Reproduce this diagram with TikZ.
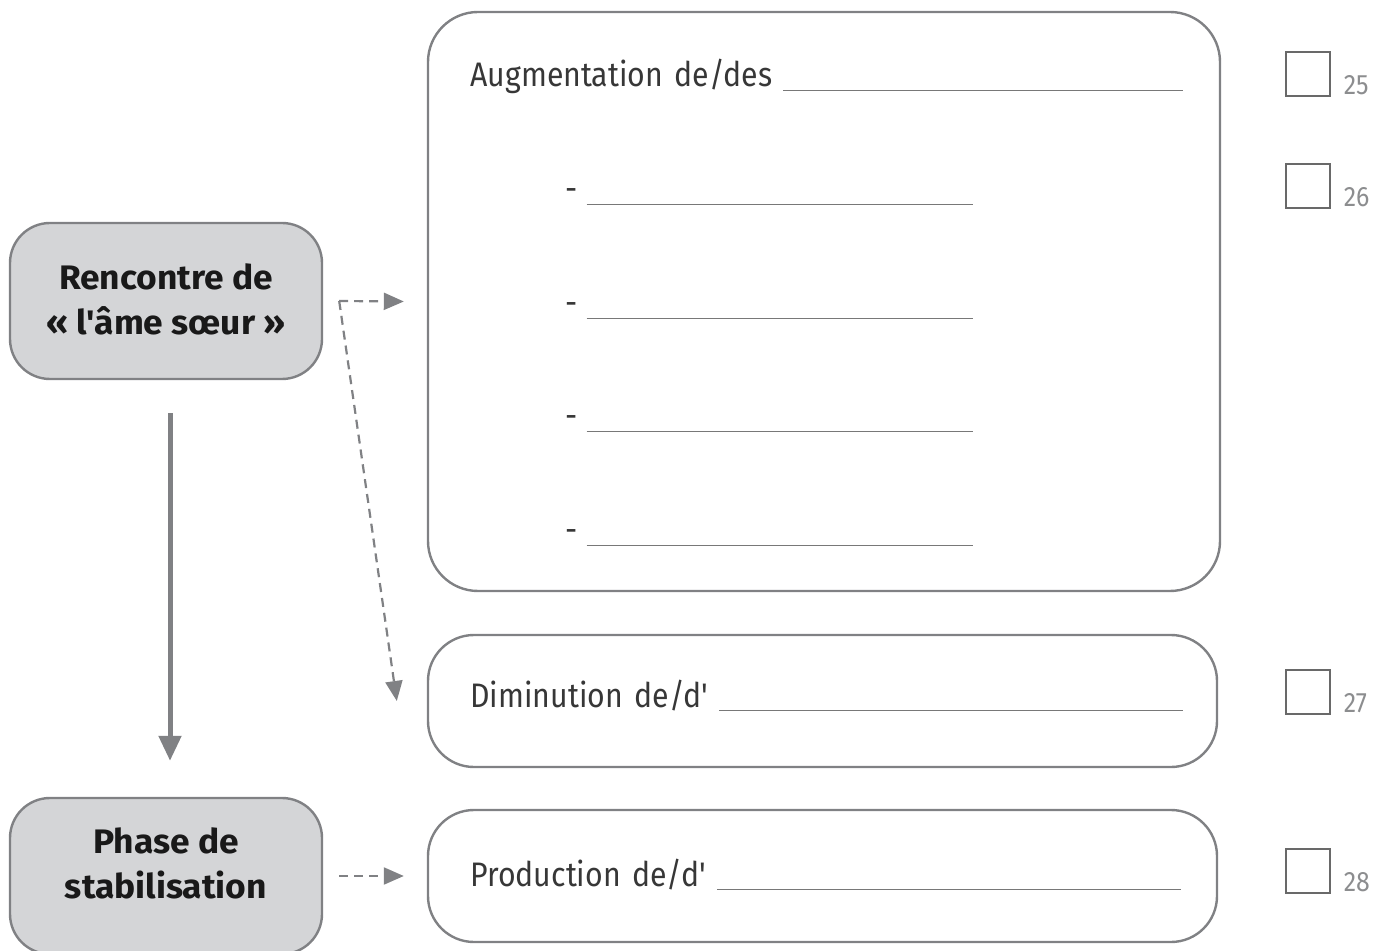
\documentclass[tikz,border=0pt]{standalone}
\usepackage{fontspec}
\setmainfont{Fira Sans}[Ligatures=TeXOff, FakeStretch=0.89, BoldFeatures={FakeStretch=1.04}]
\usepackage{tikz}
\usetikzlibrary{shapes, positioning}
\usetikzlibrary{calc}
\usetikzlibrary{arrows.meta}
\definecolor{framegray}{RGB}{128,129,132}
\definecolor{fillgray}{RGB}{212,213,215}
\definecolor{textgray}{RGB}{55,55,55}
\definecolor{numgray}{RGB}{140,141,143}
\definecolor{checkgray}{RGB}{105,105,105}
\definecolor{rulegray}{RGB}{120,120,120}
\newcommand{\blankfill}{{\color{rulegray}\leavevmode\leaders\hrule height -1.6pt depth 2.2pt\hfill\kern0pt}}

\begin{document}
\begin{tikzpicture}[x=0.5pt, y=-0.5pt,
		phasebox/.style={draw=framegray, line width=1.2pt, fill=fillgray, rounded corners=20pt, minimum width=156pt, minimum height=78pt},
		phasetext/.style={align=center, inner sep=0pt, font=\fontsize{17}{22.5}\selectfont\bfseries, text=black!90},
		answerbox/.style={draw=framegray, line width=1.2pt, rounded corners=23pt},
		filltext/.style={anchor=base west, inner sep=0pt, font=\fontsize{17}{20}\selectfont, text=textgray},
		checkbox/.style={draw=checkgray, line width=1.4pt, minimum size=22pt, inner sep=0pt},
		number/.style={anchor=base west, inner sep=0pt, font=\fontsize{14}{16}\selectfont, text=numgray},
		dasharrow/.style={draw=framegray, line width=1.1pt, dash pattern=on 4.5pt off 3pt, -{Triangle[length=10pt, width=8.5pt]}},
		mainarrow/.style={draw=framegray, line width=2.5pt, -{Triangle[length=12.5pt, width=11pt]}}]
		\useasboundingbox (0,0) rectangle (1386,951);
		\node[phasebox] (rencontre) at (166,301) {};
		\node[phasetext] (rencontre-txt) at (166,299) {Rencontre de\\«~l'âme sœur~»};
		\node[phasebox] (phase) at (166,876) {};
		\node[phasetext] (phase-txt) at (166,863) {Phase de\\stabilisation};
		\node[answerbox, minimum width=396pt, minimum height=289.5pt, rounded corners=25pt] (augm) at (824,301.5) {};
		\node[answerbox, minimum width=394.5pt, minimum height=66pt] (dimin) at (822.5,701) {};
		\node[answerbox, minimum width=394.5pt, minimum height=66pt] (prod) at (822.5,876) {};
		\node[filltext, text width=356.5pt] (augm-txt) at (470,87) {Augmentation de/des \blankfill};
		\foreach \y [count=\i] in {201,315,428,542} {
			\node[filltext, text width=204pt] (item-\i) at (565,\y) {-\hspace{4.5pt}\blankfill};
		}
		\node[filltext, text width=356.5pt] (dimin-txt) at (470,707) {Diminution de/d' \blankfill};
		\node[filltext, text width=355.5pt] (prod-txt) at (470,886) {Production de/d' \blankfill};
		\foreach \y/\n in {74/25,186/26,692/27,871/28} {
			\node[checkbox] (check-\n) at (1308,\y) {};
			\node[number] (num-\n) at ([xshift=6pt, yshift=1.5pt]check-\n.south east) {\n};
		}
		\coordinate (fork) at ([xshift=8pt]rencontre.east);
		\draw[dasharrow] (fork) -- ([xshift=-11.5pt]augm.west);
		\draw[dasharrow] (fork) -- ([xshift=-15pt]dimin.west);
		\draw[dasharrow] ([xshift=8pt]phase.east) -- ([xshift=-11.5pt]prod.west);
		\draw[mainarrow] ([xshift=2pt, yshift=-16.5pt]rencontre.south) -- ([xshift=2pt, yshift=18pt]phase.north);
	\end{tikzpicture}
\end{document}
